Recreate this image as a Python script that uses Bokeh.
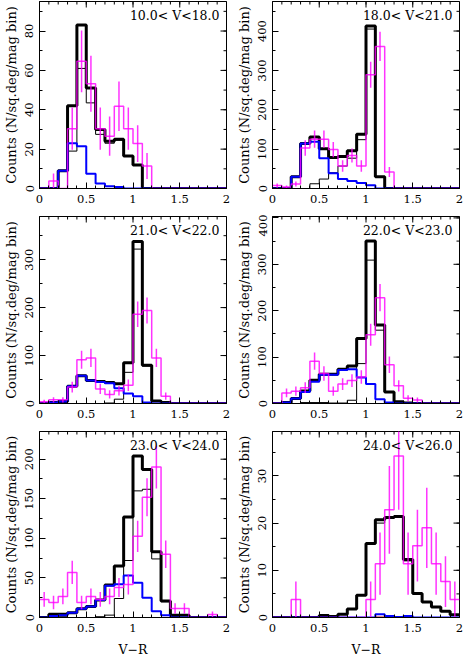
import math
from bokeh.plotting import figure
from bokeh.layouts import column, row
from bokeh.models import LinearAxis, Label, FixedTicker, Range1d
from bokeh.embed import file_html
from bokeh.resources import INLINE

# bin edges of V-R histograms (0.1 mag bins)
bin_edges = [0.0, 0.1, 0.2, 0.3, 0.4, 0.5, 0.6, 0.7, 0.8, 0.9, 1.0,
             1.1, 1.2, 1.3, 1.4, 1.5, 1.6, 1.7, 1.8, 1.9, 2.0]
bin_centers = [0.05, 0.15, 0.25, 0.35, 0.45, 0.55, 0.65, 0.75, 0.85, 0.95,
               1.05, 1.15, 1.25, 1.35, 1.45, 1.55, 1.65, 1.75, 1.85, 1.95]

x_ticks = [0, 0.5, 1, 1.5, 2]
x_tick_labels = ["0", "0.5", "1", "1.5", "2"]

titles = ["10.0< V<18.0", "18.0< V<21.0", "21.0< V<22.0",
          "22.0< V<23.0", "23.0< V<24.0", "24.0< V<26.0"]
y_max = [95, 475, 390, 403, 235, 39.4]
y_step = [20, 100, 100, 100, 50, 10]

# model total (thick black)
total_1 = [0, 0, 9, 42, 83, 51, 30, 24, 25, 16.5, 12, 0, 0, 0, 0, 0, 0, 0, 0, 0]
total_2 = [0, 0, 30, 114, 131, 101, 79, 81, 96, 138, 413, 30, 0, 0, 0, 0, 0, 0, 0, 0]
total_3 = [0, 2, 4, 36, 58, 48, 46, 44, 41, 85, 338, 80, 5, 2, 0, 0, 0, 0, 0, 0]
total_4 = [0, 2, 11, 27, 50, 63, 63, 74, 81, 140, 350, 169, 25, 4, 1, 0, 0, 0, 0, 0]
total_5 = [0, 4, 4, 6, 11, 14, 22, 41, 65, 127, 204, 187, 83, 21, 3, 3, 0, 0, 0, 0]
total_6 = [0, 0, 0, 0, 0, 0.4, 0.2, 0.7, 1.8, 4.7, 15.7, 20.7, 21.2, 21.4, 12.3, 5.1, 3.3, 2.2, 1.3, 0.6]

# model component (thin black)
comp_a_1 = [0, 0, 0, 19, 61, 43.5, 27.5, 23, 24.5, 16.5, 12, 0, 0, 0, 0, 0, 0, 0, 0, 0]
comp_a_2 = [0, 0, 0, 0, 12, 24, 40, 57, 77, 124, 405, 30, 0, 0, 0, 0, 0, 0, 0, 0]
comp_a_3 = [0, 0, 0, 0, 0, 0, 0, 1, 9, 65, 322, 78, 5, 2, 0, 0, 0, 0, 0, 0]
comp_a_4 = [0, 0, 0, 2, 2, 2, 1, 1, 7, 86, 309, 158, 24, 3, 1, 0, 0, 0, 0, 0]
comp_a_5 = [0, 2, 1, 0, 0, 0, 1, 3, 24, 72, 160, 162, 74, 20, 1, 0, 0, 0, 0, 0]
comp_a_6 = [0, 0, 0, 0, 0, 0.4, 0.2, 0.7, 1.8, 4.7, 15.7, 20.0, 21.0, 21.3, 12.0, 5.1, 3.3, 2.2, 1.3, 0.6]

# model component (blue)
comp_b_1 = [0, 0, 9, 23, 21.5, 7.5, 2.5, 1.2, 0.7, 0, 0, 0, 0, 0, 0, 0, 0, 0, 0, 0]
comp_b_2 = [0, 0, 30, 114, 119, 77, 39, 24, 19, 14, 8, 0, 0, 0, 0, 0, 0, 0, 0, 0]
comp_b_3 = [0, 2, 4, 36, 58, 48, 45, 42, 32, 21, 15, 2, 0, 0, 0, 0, 0, 0, 0, 0]
comp_b_4 = [0, 2, 11, 25, 47, 62, 62, 72, 74, 56, 42, 9, 2, 0, 0, 0, 0, 0, 0, 0]
comp_b_5 = [0, 2, 3, 6, 11, 14, 22, 40, 42, 53, 44, 25, 8, 3, 0, 0, 0, 0, 0, 0]
comp_b_6 = [0, 0, 0, 0, 0, 0, 0, 0, 0, 0, 0, 0.7, 0.3, 0.1, 0.3, 0, 0, 0, 0, 0]

# model component (red, ~0)
comp_c_1 = [0, 0, 0, 0, 0, 0, 0, 0, 0, 0, 0, 0, 0, 0, 0, 0, 0, 0, 0, 0]
comp_c_2 = [0, 0, 0, 0, 0, 0, 0, 0, 0, 0, 0, 0, 0, 0, 0, 0, 0, 0, 0, 0]
comp_c_3 = [0, 0, 0, 0, 0, 0, 0, 0, 0, 0, 0, 0, 0, 0, 0, 0, 0, 0, 0, 0]
comp_c_4 = [0, 0, 0, 0, 0, 0, 0, 0, 0, 0, 0, 0, 0, 0, 0, 0, 0, 0, 0, 0]
comp_c_5 = [0, 0, 0, 0, 0, 0, 0, 0, 0, 0, 0, 0, 0, 0, 0, 0, 0, 0, 0, 0]
comp_c_6 = [0, 0, 0, 0, 0, 0, 0, 0, 0, 0, 0, 0.1, 0.1, 0.1, 0.1, 0, 0, 0, 0, 0]

# observed counts (magenta) and errors
obs_1 = [0, 3.8, 0, 30.4, 64.6, 53.2, 30.4, 26.6, 41.8, 30.4, 22.8, 11.4, 0, 0, 0, 0, 0, 0, 0, 0]
err_1 = [0, 3.8, 0, 10.7, 15.7, 14.2, 10.7, 10.0, 12.6, 10.7, 9.3, 6.6, 0, 0, 0, 0, 0, 0, 0, 0]
obs_2 = [7.6, 3.8, 11.4, 102.6, 125.4, 125.4, 98.8, 57, 83.6, 57, 288.8, 361, 41.8, 0, 0, 0, 0, 0, 0, 0]
err_2 = [5.4, 3.8, 6.6, 19.7, 21.8, 21.8, 19.4, 14.7, 17.8, 14.7, 33, 37, 12.6, 0, 0, 0, 0, 0, 0, 0]
obs_3 = [3.8, 7.6, 7.6, 34.2, 91.2, 95, 30.4, 19, 26.6, 38, 186.2, 193.8, 95, 15.2, 0, 0, 0, 0, 0, 0]
err_3 = [3.8, 5.4, 5.4, 11.4, 18.6, 19, 10.7, 8.5, 10, 12, 26.6, 27.1, 19, 7.6, 0, 0, 0, 0, 0, 0]
obs_4 = [0, 22.8, 26.6, 34.2, 91.2, 64.6, 26.6, 41.8, 49.4, 57, 148.2, 228, 83.6, 38, 11.4, 7.6, 0, 0, 0, 0]
err_4 = [0, 9.3, 10, 11.4, 18.6, 15.7, 10, 12.6, 13.7, 14.7, 23.7, 29.4, 17.8, 12, 6.6, 5.4, 0, 0, 0, 0]
obs_5 = [22.8, 19, 26.6, 57, 19, 26.6, 22.8, 26.6, 38, 41.8, 102.6, 152, 190, 79.8, 11.4, 11.4, 0, 0, 3.8, 0]
err_5 = [9.3, 8.5, 10, 14.7, 8.5, 10, 9.3, 10, 12, 12.6, 19.7, 24, 26.9, 17.4, 6.6, 6.6, 0, 0, 3.8, 0]
obs_6 = [0, 0, 3.8, 0, 0, 0, 0, 0, 0, 0, 3.8, 11.4, 22.8, 34.2, 11.4, 15.2, 19, 11.4, 7.6, 3.8]
err_6 = [0, 0, 3.8, 0, 0, 0, 0, 0, 0, 0, 3.8, 6.6, 9.3, 11.4, 6.6, 7.6, 8.5, 6.6, 5.4, 3.8]

panels = [
    (total_1, comp_a_1, comp_b_1, comp_c_1, obs_1, err_1),
    (total_2, comp_a_2, comp_b_2, comp_c_2, obs_2, err_2),
    (total_3, comp_a_3, comp_b_3, comp_c_3, obs_3, err_3),
    (total_4, comp_a_4, comp_b_4, comp_c_4, obs_4, err_4),
    (total_5, comp_a_5, comp_b_5, comp_c_5, obs_5, err_5),
    (total_6, comp_a_6, comp_b_6, comp_c_6, obs_6, err_6),
]

FONT = "DejaVu Serif"
col_w = [231, 232]
col_left = [39, 41]
col_right = [5, 4]
row_h = [214, 216, 230]
row_top = [1, 2, 1]
row_bot = [26, 27, 43]
MAJ = 6
MIN = 3


def style_axis(ax, ticks, minor):
    ax.ticker = FixedTicker(ticks=ticks, minor_ticks=minor)
    ax.major_tick_in = MAJ
    ax.major_tick_out = 0
    ax.minor_tick_in = MIN
    ax.minor_tick_out = 0
    ax.axis_line_color = "black"
    ax.major_tick_line_color = "black"
    ax.minor_tick_line_color = "black"
    ax.major_label_text_font = FONT
    ax.major_label_text_font_size = "11.5px"
    ax.major_label_text_color = "black"
    ax.axis_label_text_font = FONT
    ax.axis_label_text_font_style = "normal"
    ax.axis_label_text_color = "black"


def make_panel(i):
    r, c = divmod(i, 2)
    total, comp_a, comp_b, comp_c, obs, err = panels[i]
    ymax = y_max[i]
    step = y_step[i]
    yt = [k * step for k in range(int(ymax // step) + 1)]
    ymin_ticks = [k * step / 2 for k in range(int(ymax // (step / 2)) + 1)]

    p = figure(width=col_w[c], height=row_h[r], output_backend="svg",
               toolbar_location=None, x_range=Range1d(0, 2),
               y_range=Range1d(0, ymax),
               min_border_left=col_left[c], min_border_right=col_right[c],
               min_border_top=row_top[r], min_border_bottom=row_bot[r],
               x_axis_type=None, y_axis_type=None)
    p.xgrid.visible = False
    p.ygrid.visible = False
    p.outline_line_color = "black"
    p.background_fill_color = "white"

    xb = LinearAxis()
    style_axis(xb, x_ticks, bin_edges)
    xb.major_label_overrides = {t: l for t, l in zip(x_ticks, x_tick_labels)}
    xb.major_label_standoff = 6
    if r == 2:
        xb.axis_label = "V\u2212R"
        xb.axis_label_text_font_size = "12.5px"
        xb.axis_label_standoff = 7
    p.add_layout(xb, "below")

    yl = LinearAxis()
    style_axis(yl, yt, ymin_ticks)
    yl.major_label_orientation = "vertical"
    yl.major_label_standoff = 6
    yl.axis_label = "Counts (N/sq.deg/mag bin)"
    yl.axis_label_text_font_size = "13px"
    yl.axis_label_standoff = 4
    p.add_layout(yl, "left")

    # inward ticks along the top and right edges (clipped to the frame)
    p.scatter(x=bin_edges, y=[ymax] * len(bin_edges), marker="dash",
              angle=math.pi / 2, size=2 * MIN, line_color="black", line_width=1)
    p.scatter(x=x_ticks, y=[ymax] * len(x_ticks), marker="dash",
              angle=math.pi / 2, size=2 * MAJ, line_color="black", line_width=1)
    p.scatter(x=[2] * len(ymin_ticks), y=ymin_ticks, marker="dash",
              size=2 * MIN, line_color="black", line_width=1)
    p.scatter(x=[2] * len(yt), y=yt, marker="dash",
              size=2 * MAJ, line_color="black", line_width=1)

    def hist(vals, color, width, alpha=1.0):
        p.step(x=bin_edges, y=list(vals) + [vals[-1]], mode="after",
               line_color=color, line_width=width, line_alpha=alpha)

    hist(total, "black", 3)
    hist(comp_a, "black", 1)
    hist(comp_c, "#cc0000", 1)
    hist(comp_b, "#0000ff", 2)
    hist(obs, "#ff00ff", 1.5, 0.8)

    xs = [xc for xc, v in zip(bin_centers, obs) if v > 0]
    y0 = [v - e for v, e in zip(obs, err) if v > 0]
    y1 = [v + e for v, e in zip(obs, err) if v > 0]
    p.segment(x0=xs, y0=y0, x1=xs, y1=y1, line_color="#ff00ff",
              line_width=1.5, line_alpha=0.8)

    p.add_layout(Label(x=1.925, y=ymax * 0.925, text=titles[i],
                       text_align="right", text_baseline="middle",
                       text_font=FONT, text_font_size="12.5px",
                       text_color="black"))
    return p


figs = [make_panel(i) for i in range(6)]
layout = column(row(figs[0], figs[1]), row(figs[2], figs[3]),
                row(figs[4], figs[5]))

open("out.html", "w").write(file_html(layout, INLINE))
